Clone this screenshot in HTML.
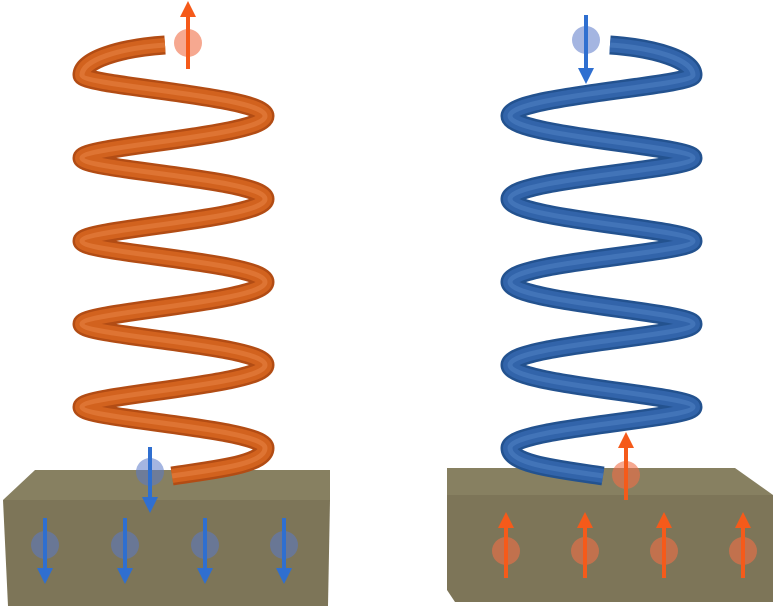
<!DOCTYPE html>
<html><head><meta charset="utf-8"><style>html,body{margin:0;padding:0;background:#fff}svg{display:block}</style></head>
<body>
<svg width="777" height="612" viewBox="0 0 777 612" xmlns="http://www.w3.org/2000/svg">
<defs>
<marker id="hb" markerWidth="4" markerHeight="4" refX="2" refY="2" orient="auto" markerUnits="strokeWidth"><path d="M0,0 L4,2 L0,4 z" fill="#2f6fd0"/></marker>
<marker id="ho" markerWidth="4" markerHeight="4" refX="2" refY="2" orient="auto" markerUnits="strokeWidth"><path d="M0,0 L4,2 L0,4 z" fill="#f55a1a"/></marker>
<path id="sp" d="M165,45 C120,48 82,60 82,75 C82,86 265,96 265,116 C265,136 82,146 82,158 C82,170 265,179 265,199 C265,219 82,229 82,241 C82,253 265,262 265,282 C265,302 82,312 82,324 C82,336 265,345 265,365 C265,385 82,395 82,407 C82,419 265,428 265,448 C265,465 210,470 172,476"/>
</defs>
<!-- left block -->
<polygon points="3,500 330,500 328,606 8,606" fill="#7d7558"/>
<polygon points="35,470 330,470 330,500 3,500" fill="#878061"/>
<!-- right block -->
<polygon points="447,495 773,495 773,602 455,602 447,590" fill="#7d7558"/>
<polygon points="447,468 735,468 773,495 447,495" fill="#878061"/>

<g fill="none">
<use href="#sp" stroke="#b24c14" stroke-width="19"/>
<use href="#sp" stroke="#d2621e" stroke-width="14"/>
<use href="#sp" stroke="#de7433" stroke-width="5"/>
</g>
<g transform="matrix(-1 0 0 1 775 0)" fill="none">
<use href="#sp" stroke="#23528f" stroke-width="19"/>
<use href="#sp" stroke="#3264aa" stroke-width="14"/>
<use href="#sp" stroke="#4274b8" stroke-width="5"/>
</g>

<g fill="rgba(90,120,200,0.55)">
<circle cx="150" cy="472" r="14"/><circle cx="45" cy="545" r="14"/><circle cx="125" cy="545" r="14"/><circle cx="205" cy="545" r="14"/><circle cx="284" cy="545" r="14"/>
<circle cx="586" cy="40" r="14"/>
</g>
<g stroke="#2f6fd0" stroke-width="4" marker-end="url(#hb)">
<line x1="150" y1="447" x2="150" y2="505"/>
<line x1="45" y1="518" x2="45" y2="576"/><line x1="125" y1="518" x2="125" y2="576"/><line x1="205" y1="518" x2="205" y2="576"/><line x1="284" y1="518" x2="284" y2="576"/>
<line x1="586" y1="15" x2="586" y2="76"/>
</g>
<g fill="rgba(240,110,70,0.6)">
<circle cx="188" cy="43" r="14"/><circle cx="626" cy="475" r="14"/>
<circle cx="506" cy="551" r="14"/><circle cx="585" cy="551" r="14"/><circle cx="664" cy="551" r="14"/><circle cx="743" cy="551" r="14"/>
</g>
<g stroke="#f55a1a" stroke-width="4" marker-end="url(#ho)">
<line x1="188" y1="69" x2="188" y2="9"/>
<line x1="626" y1="500" x2="626" y2="440"/>
<line x1="506" y1="578" x2="506" y2="520"/><line x1="585" y1="578" x2="585" y2="520"/><line x1="664" y1="578" x2="664" y2="520"/><line x1="743" y1="578" x2="743" y2="520"/>
</g>
</svg>
</body></html>
